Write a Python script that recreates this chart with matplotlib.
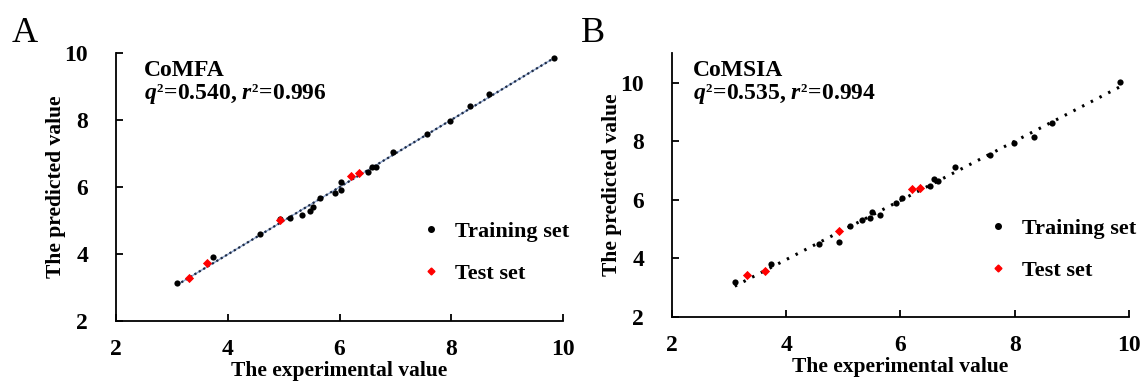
import numpy as np
import matplotlib
matplotlib.use('Agg')
import matplotlib.pyplot as plt
import matplotlib._mathtext as mathtext_internals
from matplotlib.lines import Line2D

# ---- data ----
comfa_train_x = [3.09, 3.73, 4.57, 4.93, 5.11, 5.33, 5.47, 5.52, 5.65, 5.92, 6.02,
                 6.02, 6.51, 6.59, 6.66, 6.96, 7.56, 7.98, 8.33, 8.67, 9.84]
comfa_train_y = [3.12, 3.89, 4.58, 5.04, 5.06, 5.17, 5.29, 5.39, 5.66, 5.82, 5.90,
                 6.14, 6.45, 6.60, 6.60, 7.04, 7.59, 7.98, 8.41, 8.77, 9.84]
comfa_test_x = [3.31, 3.62, 4.93, 6.21, 6.34]
comfa_test_y = [3.29, 3.73, 5.00, 6.33, 6.41]

comsia_train_x = [3.10, 3.73, 4.58, 4.93, 5.11, 5.32, 5.47, 5.51, 5.64, 5.92, 6.02,
                  6.51, 6.59, 6.65, 6.95, 7.56, 7.98, 8.34, 8.66, 9.84]
comsia_train_y = [3.17, 3.79, 4.47, 4.54, 5.11, 5.30, 5.38, 5.56, 5.49, 5.90, 6.05,
                  6.48, 6.69, 6.63, 7.10, 7.52, 7.94, 8.13, 8.63, 10.01]
comsia_test_x = [3.32, 3.62, 4.93, 6.20, 6.34]
comsia_test_y = [3.41, 3.56, 4.92, 6.37, 6.41]

ticks = [2, 4, 6, 8, 10]

plt.rcParams['font.family'] = ['Liberation Serif', 'DejaVu Serif']
plt.rcParams['font.weight'] = 'bold'
plt.rcParams['mathtext.fontset'] = 'custom'
plt.rcParams['mathtext.rm'] = 'Liberation Serif:bold'
plt.rcParams['mathtext.bf'] = 'Liberation Serif:bold'
plt.rcParams['mathtext.it'] = 'Liberation Serif:italic:bold'
# smaller superscripts, like the Word-style q² in the original figure
mathtext_internals.SHRINK_FACTOR = 0.55


def draw_panel(ax, tx, ty, sx, sy, ylim, name, stats, text_x, leg_x, line_style):
    # fitted trend line through the training set
    k, b = np.polyfit(tx, ty, 1)
    xs = np.array([min(tx), max(tx)])
    if line_style == 'blue':
        ax.plot(xs, k * xs + b, color='#8fa6cf', lw=1.0, zorder=1)
        ax.plot(xs, k * xs + b, color='#1d2b45', lw=1.6,
                linestyle=(0, (1, 1.3)), zorder=2)
    else:
        ax.plot(xs, k * xs + b, color='black', lw=2.2,
                linestyle=(0, (0.8, 2.4)), zorder=2)

    ax.scatter(tx, ty, s=20, color='black', marker='o', zorder=3, linewidths=0)
    ax.scatter(sx, sy, s=22, color='#ff0000', marker='D', zorder=4, linewidths=0)

    ax.set_xlim(2, 10)
    ax.set_ylim(*ylim)
    ax.set_xticks(ticks)
    ax.set_yticks(ticks)
    for s in ['top', 'right']:
        ax.spines[s].set_visible(False)
    for s in ['left', 'bottom']:
        ax.spines[s].set_linewidth(1.3)
    ax.tick_params(axis='both', direction='in', length=5, width=1.3,
                   labelsize=17)
    ax.tick_params(axis='x', pad=13)
    ax.tick_params(axis='y', pad=20)
    ax.set_xlabel('The experimental value', fontsize=15.5, fontweight='bold',
                  labelpad=1)
    ax.set_ylabel('The predicted value', fontsize=15.5, fontweight='bold',
                  labelpad=-1)

    ax.text(text_x, 0.914, name, transform=ax.transAxes, fontsize=17,
            fontweight='bold', va='baseline')
    ax.text(text_x, 0.824, stats, transform=ax.transAxes, fontsize=17,
            fontweight='bold', va='baseline')

    handles = [
        Line2D([], [], ls='none', marker='o', color='black', markersize=4),
        Line2D([], [], ls='none', marker='D', color='#ff0000', markersize=3.5),
    ]
    ax.legend(handles, ['Training set', 'Test set'], loc='center left',
              bbox_to_anchor=(leg_x, 0.255), frameon=False,
              handlelength=1.0, handletextpad=0.6, labelspacing=0.95,
              prop={'weight': 'bold', 'size': 16})


fig = plt.figure(figsize=(11.42, 3.84), dpi=100)
ax1 = fig.add_axes([0.1016, 0.1648, 0.3914, 0.697])
ax2 = fig.add_axes([0.5884, 0.1753, 0.4002, 0.686])

draw_panel(ax1, comfa_train_x, comfa_train_y, comfa_test_x, comfa_test_y,
           (2, 10), 'CoMFA', r'$q^2$=0.540, $r^2$=0.996',
           0.062, 0.635, 'blue')
draw_panel(ax2, comsia_train_x, comsia_train_y, comsia_test_x, comsia_test_y,
           (2, 11), 'CoMSIA', r'$q^2$=0.535, $r^2$=0.994',
           0.046, 0.645, 'black')

fig.text(12 / 1142, 1 - 42 / 384, 'A', fontsize=26, fontweight='normal')
fig.text(581 / 1142, 1 - 42 / 384, 'B', fontsize=26, fontweight='normal')

fig.savefig('out.png', dpi=100, facecolor='white')
